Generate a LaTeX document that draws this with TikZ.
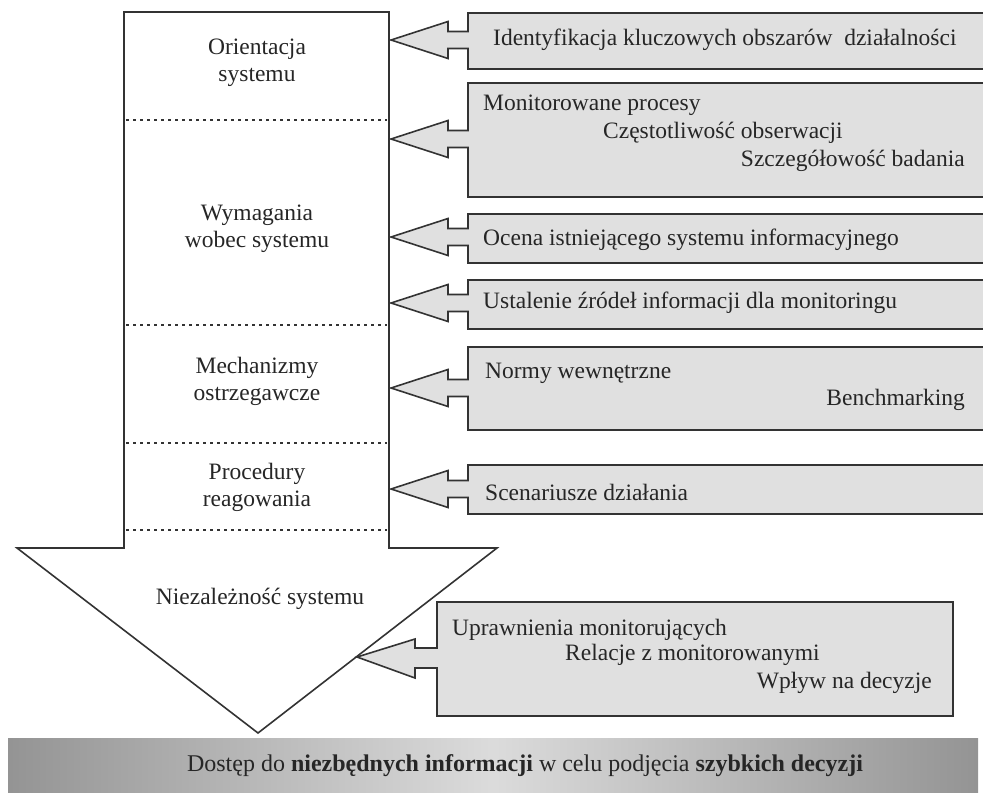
\documentclass[tikz,border=0pt]{standalone}
\usepackage{fontspec}
\setmainfont{Liberation Serif}
\begin{document}
\begin{tikzpicture}[x=1pt,y=-1pt,
  lbl/.style={font=\fontsize{23.5}{27}\selectfont, text=black!85, align=center, inner sep=0pt},
  txt/.style={font=\fontsize{23.5}{27}\selectfont, text=black!85, inner sep=0pt},
  rbox/.style={draw=black!80, line width=1.6pt, fill=black!12, line join=miter},
  mainarrow/.style={draw=black!80, line width=1.6pt, fill=white, line join=miter},
  sep/.style={draw=black!80, line width=1.4pt, dash pattern=on 3pt off 4pt}]
\useasboundingbox (0,0) rectangle (983,796);
\clip (0,0) rectangle (983,796);

% main downward arrow
\draw[mainarrow] (124,12) -- (389,12) -- (389,548) -- (497,548) -- (258,733) -- (17,548) -- (124,548) -- cycle;
\foreach \y in {120,325,443,530}
  \draw[sep] (126,\y) -- (387,\y);

% left labels
\node[lbl] (orient) at (257,63) {Orientacja\\systemu};
\node[lbl] (wymag) at (257,229) {Wymagania\\wobec systemu};
\node[lbl] (mech) at (257,381) {Mechanizmy\\ostrzegawcze};
\node[lbl] (proc) at (257,487) {Procedury\\reagowania};
\node[lbl] (niez) at (260,599) {Niezależność systemu};

% right block arrows
\foreach \t/\b/\m in {13/69/40, 83/197/139, 214/263/237, 280/329/303, 347/430/388, 465/514/489}
  \draw[rbox] (1000,\t) -- (468,\t) -- (468,\m-8.5) -- (448,\m-8.5) -- (448,\m-18.5)
     -- (391,\m) -- (448,\m+18.5) -- (448,\m+8.5) -- (468,\m+8.5) -- (468,\b) -- (1000,\b);

% bottom-right block arrow
\draw[rbox] (437,602) -- (953,602) -- (953,716) -- (437,716) -- (437,668) -- (415,668) -- (415,678)
   -- (357,657) -- (415,639) -- (415,648) -- (437,648) -- cycle;

% right texts
\node[txt, anchor=west] (t1) at (493,40) {Identyfikacja kluczowych obszarów\ \ działalności};
\node[txt, anchor=west] (t2a) at (483,105) {Monitorowane procesy};
\node[txt, anchor=west] (t2b) at (603,133) {Częstotliwość obserwacji};
\node[txt, anchor=east] (t2c) at (965,161) {Szczegółowość badania};
\node[txt, anchor=west] (t3) at (483,240) {Ocena istniejącego systemu informacyjnego};
\node[txt, anchor=west] (t4) at (483,303) {Ustalenie źródeł informacji dla monitoringu};
\node[txt, anchor=west] (t5a) at (485,373) {Normy wewnętrzne};
\node[txt, anchor=east] (t5b) at (965,400) {Benchmarking};
\node[txt, anchor=west] (t6) at (485,492) {Scenariusze działania};
\node[txt, anchor=west] (t7a) at (452,630) {Uprawnienia monitorujących};
\node[txt, anchor=west] (t7b) at (565,655) {Relacje z monitorowanymi};
\node[txt, anchor=east] (t7c) at (932,683) {Wpływ na decyzje};

% bottom bar
\shade[left color=black!42, right color=black!42, middle color=black!14] (8,738) rectangle (978,792);
\node[txt, font=\fontsize{24}{27}\selectfont] (bar) at (525,766) {Dostęp do \textbf{niezbędnych informacji} w celu podjęcia \textbf{szybkich decyzji}};
\end{tikzpicture}
\end{document}
